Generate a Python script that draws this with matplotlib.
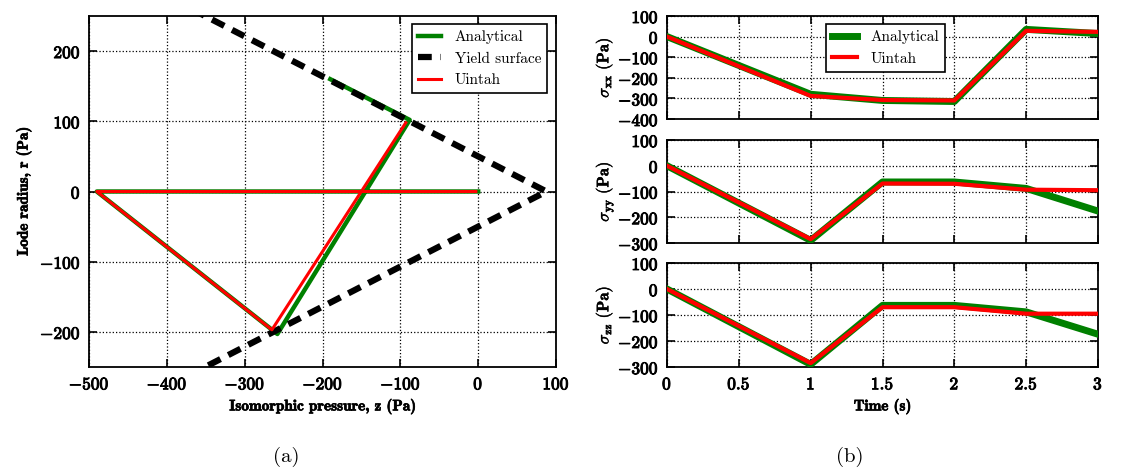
import matplotlib
matplotlib.use("Agg")
import matplotlib.pyplot as plt
import matplotlib.patheffects as pe
from matplotlib.ticker import FuncFormatter, MultipleLocator

plt.rcParams['mathtext.fontset'] = 'cm'
plt.rcParams['axes.linewidth'] = 1.3

# ---- data: (a) stress path in z-r plane ----
ana_z = [0, -490, -258, -88, -190]
ana_r = [0, 0, -203, 102, 160]
uin_z = [-3, -490, -265, -93]
uin_r = [0, 0, -197, 98]
yield_z = [-500, 87.7, -500]
yield_r = [335, 0, -335]

# ---- data: (b) stresses vs time ----
time = [0, 1, 1.5, 2, 2.5, 3]
sxx_ana = [0, -280, -310, -315, 35, 15]
sxx_uin = [0, -288, -308, -310, 28, 23]
syy_ana = [0, -290, -63, -63, -88, -176]
syy_uin = [0, -285, -69, -70, -93, -95]
szz_ana = [0, -290, -63, -63, -88, -174]
szz_uin = [0, -285, -70, -70, -95, -95]

W, H = 1145, 472
fig = plt.figure(figsize=(W / 100, H / 100), dpi=100)

def box(l, t, r, b):
    return [l / W, 1 - b / H, (r - l) / W, (b - t) / H]

BOLD = [pe.withStroke(linewidth=0.7, foreground='black')]
LBOLD = [pe.withStroke(linewidth=0.5, foreground='black')]
fmt = FuncFormatter(lambda v, p: r'$\mathbf{%g}$' % v)
TICK = 12.5
LAB = 11
LEG = 11

def style(ax):
    ax.tick_params(direction='in', top=True, right=True, length=6, width=1.2,
                   labelsize=TICK, pad=6)
    ax.grid(True, linestyle=':', color='black', linewidth=0.9)
    ax.xaxis.set_major_formatter(fmt)
    ax.yaxis.set_major_formatter(fmt)

# ---- (a) ----
ax = fig.add_axes(box(89, 16, 556, 367))
ax.plot(ana_z, ana_r, color='green', lw=3.2, label='Analytical', zorder=3)
ax.plot(yield_z, yield_r, color='black', lw=4.5, linestyle=(0, (2.2, 1.4)),
        label='Yield surface', zorder=4)
ax.plot(uin_z, uin_r, color='red', lw=2.2, label='Uintah', zorder=5)
ax.set_xlim(-500, 100)
ax.set_ylim(-250, 250)
ax.xaxis.set_major_locator(MultipleLocator(100))
ax.yaxis.set_major_locator(MultipleLocator(100))
style(ax)
ax.set_xlabel('Isomorphic pressure, z (Pa)', family='cmb10', fontsize=LAB, labelpad=4,
              path_effects=LBOLD)
ax.set_ylabel('Lode radius, r (Pa)', family='cmb10', fontsize=LAB, labelpad=6,
              path_effects=LBOLD)
leg = ax.legend(loc='upper right', bbox_to_anchor=(0.981, 0.977), borderaxespad=0,
                prop={'family': 'cmr10', 'size': LEG}, fancybox=False,
                framealpha=1, edgecolor='black', handlelength=1.5, handletextpad=0.9)
leg.get_frame().set_linewidth(1.2)

# ---- (b) ----
tops = [(16, 119), (140, 243), (263, 367)]
series = [(sxx_ana, sxx_uin, r'$\sigma_{\mathbf{xx}}\ \mathbf{(Pa)}$', (-400, 100)),
          (syy_ana, syy_uin, r'$\sigma_{\mathbf{yy}}\ \mathbf{(Pa)}$', (-300, 100)),
          (szz_ana, szz_uin, r'$\sigma_{\mathbf{zz}}\ \mathbf{(Pa)}$', (-300, 100))]
axes_b = []
for i, ((t0, b0), (ya, yu, lab, yl)) in enumerate(zip(tops, series)):
    a = fig.add_axes(box(667, t0, 1098, b0))
    a.plot(time, ya, color='green', lw=5, label='Analytical', zorder=3)
    a.plot(time, yu, color='red', lw=3, label='Uintah', zorder=4)
    a.set_xlim(0, 3)
    a.set_ylim(*yl)
    a.xaxis.set_major_locator(MultipleLocator(0.5))
    a.yaxis.set_major_locator(MultipleLocator(100))
    style(a)
    a.set_ylabel(lab, fontsize=12, labelpad=2,
                 path_effects=[pe.withStroke(linewidth=0.3, foreground='black')])
    if i < 2:
        a.tick_params(labelbottom=False)
    axes_b.append(a)

axes_b[-1].set_xlabel('Time (s)', family='cmb10', fontsize=LAB, labelpad=4,
                      path_effects=LBOLD)
leg2 = axes_b[0].legend(loc='upper left', bbox_to_anchor=(0.369, 0.92), borderaxespad=0,
                        prop={'family': 'cmr10', 'size': LEG}, fancybox=False,
                        framealpha=1, edgecolor='black', handlelength=1.6, handletextpad=0.9)
leg2.get_frame().set_linewidth(1.2)

fig.text(286 / W, 1 - 457 / H, '(a)', family='cmr10', fontsize=15, ha='center', va='center')
fig.text(850 / W, 1 - 457 / H, '(b)', family='cmr10', fontsize=15, ha='center', va='center')

fig.canvas.draw()
for a in [ax] + axes_b:
    for t in a.get_xticklabels() + a.get_yticklabels():
        t.set_path_effects(BOLD)

fig.savefig('out.png', dpi=100)
